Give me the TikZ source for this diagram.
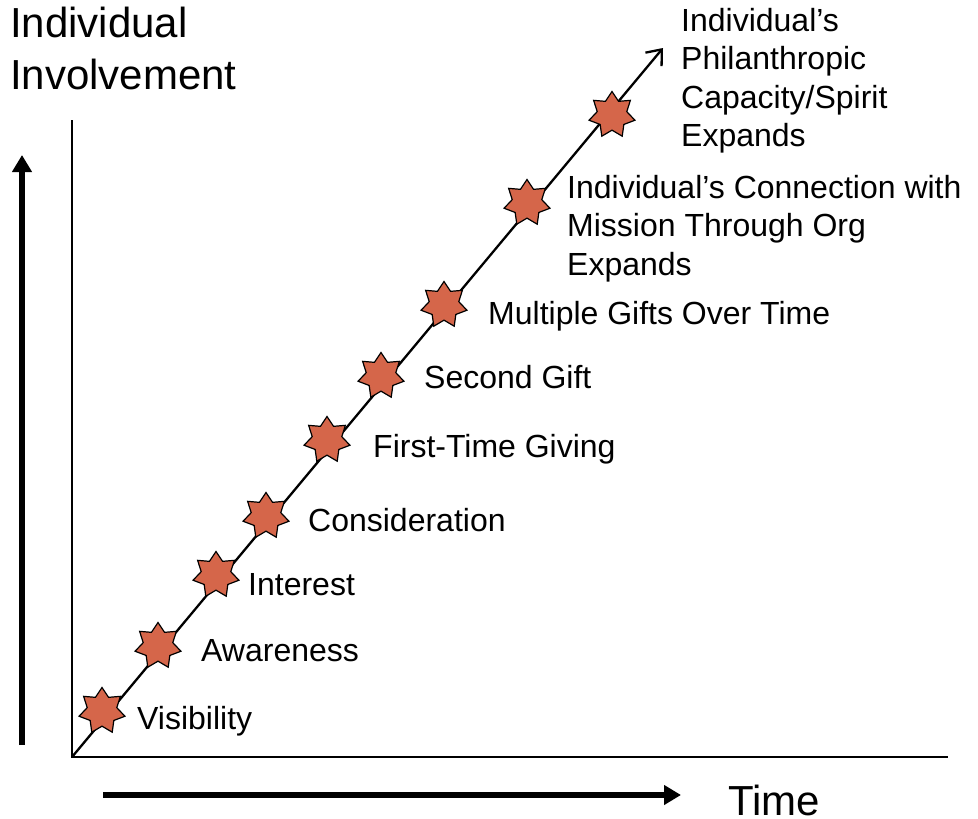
\documentclass[tikz,border=0pt]{standalone}
\usepackage{fontspec}
\setmainfont{Liberation Sans}
\usetikzlibrary{arrows.meta,shapes.geometric}
\definecolor{starfill}{RGB}{213,102,74}
\tikzset{
  stage/.style={star, star points=7, star point ratio=1.55, minimum size=47pt, inner sep=0pt,
    fill=starfill, draw=black, line width=1.2pt},
  lbl/.style={anchor=base west, inner sep=0pt, align=left,
    font=\fontsize{32}{38.5}\selectfont},
  big/.style={anchor=base west, inner sep=0pt, align=left,
    font=\fontsize{42}{52}\selectfont},
  axis/.style={line width=2pt, black},
  bigarrow/.style={line width=5.5pt, -{Triangle[length=17pt, width=19pt]}},
}
\begin{document}
\begin{tikzpicture}[x=1pt,y=-1pt]
\useasboundingbox (0,0) rectangle (978,819);
% axes
\coordinate (ytop) at (72,120);
\coordinate (origin) at (72,757);
\coordinate (xend) at (948,757);
\draw[axis] (ytop) -- (origin) -- (xend);
% big arrows
\coordinate (ua0) at (22,745);
\coordinate (ua1) at (22,155);
\draw[bigarrow] (ua0) -- (ua1);
\coordinate (ra0) at (103,795);
\coordinate (ra1) at (681,795);
\draw[bigarrow] (ra0) -- (ra1);
% diagonal
\coordinate (dtip) at (663,48);
\draw[line width=2.3pt, -{Straight Barb[length=13pt, width=21pt, line width=2.3pt]}] (origin) -- (dtip);
% stars
\node[stage] (s1) at (102,711) {};
\node[stage] (s2) at (158,646) {};
\node[stage] (s3) at (216,575) {};
\node[stage] (s4) at (266,516) {};
\node[stage] (s5) at (327,440) {};
\node[stage] (s6) at (381,376) {};
\node[stage] (s7) at (444,305) {};
\node[stage] (s8) at (527,203) {};
\node[stage] (s9) at (612,115) {};
% labels
\node[lbl] (l1) at (137,729) {Visibility};
\node[lbl] (l2) at (201,661) {Awareness};
\node[lbl] (l3) at (248,595) {Interest};
\node[lbl] (l4) at (308,531) {Consideration};
\node[lbl] (l5) at (373,457) {First-Time Giving};
\node[lbl] (l6) at (424,388) {Second Gift};
\node[lbl] (l7) at (488,324) {Multiple Gifts Over Time};
\node[lbl] (l8) at (567,275) {Individual’s Connection with\\Mission Through Org\\Expands};
\node[lbl] (l9) at (681,146.5) {Individual’s\\Philanthropic\\Capacity/Spirit\\Expands};
\node[big] (title) at (10,89) {Individual\\Involvement};
\node[big] (time) at (728,815) {Time};
\end{tikzpicture}
\end{document}
